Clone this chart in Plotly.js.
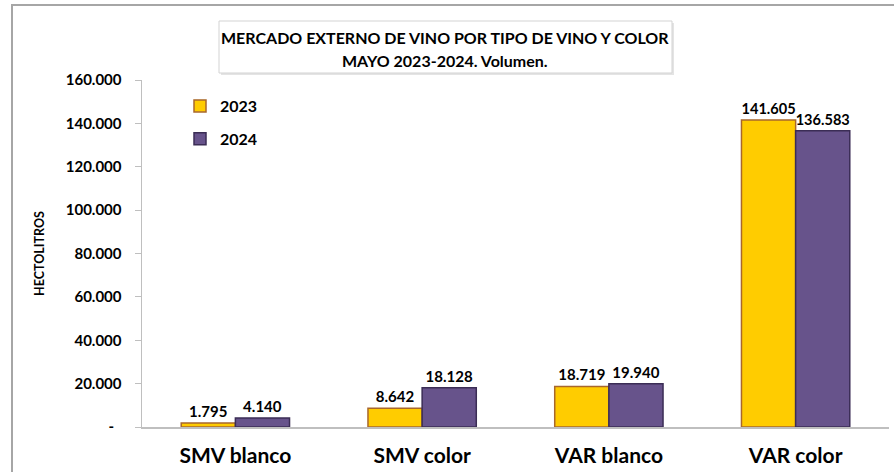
<!DOCTYPE html>
<html>
<head>
<meta charset="utf-8">
<script src="https://cdn.plot.ly/plotly-3.0.1.min.js"></script>
<style>html,body{margin:0;padding:0;background:#fff;}#chart{width:894px;height:472px;}</style>
</head>
<body>
<div id="chart"></div>
<script>
const categories = ['SMV blanco', 'SMV color', 'VAR blanco', 'VAR color'];
const values2023 = [1795, 8642, 18719, 141605];
const values2024 = [4140, 18128, 19940, 136583];
const seriesNames = ['2023', '2024'];
const tickValues = [0, 20000, 40000, 60000, 80000, 100000, 120000, 140000, 160000];
const tickLabels = ['-\u00A0\u00A0', '20.000', '40.000', '60.000', '80.000', '100.000', '120.000', '140.000', '160.000'];
const titleLines = ['MERCADO EXTERNO DE VINO POR TIPO DE VINO Y COLOR', 'MAYO 2023-2024. Volumen.'];
const yTitle = 'HECTOLITROS';

const FONT = 'Lato, "Open Sans", sans-serif';
const fmt = v => v.toLocaleString('de-DE');

const traces = [
  {
    type: 'bar', name: seriesNames[0], x: categories, y: values2023,
    legendgroup: 'a',
    marker: {color: '#FFCC00', line: {color: '#A8672C', width: 1.5}},
    text: values2023.map(fmt), textposition: 'outside', cliponaxis: false,
    textfont: {family: FONT, size: 15, color: '#000', weight: 'bold'}
  },
  {
    type: 'bar', name: seriesNames[1], x: categories, y: values2024,
    legendgroup: 'b',
    marker: {color: '#67538B', line: {color: '#3B2D55', width: 1.5}},
    text: values2024.map(fmt), textposition: 'outside', cliponaxis: false,
    textfont: {family: FONT, size: 15, color: '#000', weight: 'bold'}
  }
];

const L = 142, R = 5, T = 80, B = 45;
const W = 894 - L - R, H = 472 - T - B;
const px = x => (x - L) / W;
const py = y => 1 - (y - T) / H;

const layout = {
  width: 894, height: 472,
  margin: {l: L, r: R, t: T, b: B},
  paper_bgcolor: '#fff', plot_bgcolor: '#fff',
  separators: ',.',
  barmode: 'group', bargap: 0.42, bargroupgap: 0,
  font: {family: FONT, color: '#000'},
  showlegend: true,
  legend: {
    x: px(180), y: py(89), xanchor: 'left', yanchor: 'top',
    bgcolor: 'rgba(0,0,0,0)', tracegroupgap: 9,
    font: {family: FONT, size: 16, color: '#000', weight: 'bold'},
    itemwidth: 30
  },
  xaxis: {
    showgrid: false, showline: true, linecolor: '#BFBFBF', linewidth: 1.5,
    ticks: '', tickfont: {family: FONT, size: 21, color: '#000', weight: 'bold'},
    ticklabelstandoff: 9
  },
  yaxis: {
    range: [0, 160000], tickvals: tickValues, ticktext: tickLabels,
    showgrid: false, zeroline: false, showline: true, linecolor: '#BFBFBF', linewidth: 1.5,
    ticks: 'outside', ticklen: 6, tickcolor: '#BFBFBF',
    tickfont: {family: FONT, size: 15, color: '#000', weight: 'bold'},
    ticklabelstandoff: 10,
    title: {text: yTitle, font: {family: FONT, size: 12.5, color: '#000', weight: 'bold'}, standoff: 18}
  },
  annotations: [
    {
      xref: 'paper', yref: 'paper', x: px(445), y: py(37),
      xanchor: 'center', yanchor: 'middle', showarrow: false,
      text: titleLines[0],
      font: {family: FONT, size: 16, color: '#000', weight: 'bold'}
    },
    {
      xref: 'paper', yref: 'paper', x: px(445), y: py(61),
      xanchor: 'center', yanchor: 'middle', showarrow: false,
      text: titleLines[1],
      font: {family: FONT, size: 16, color: '#000', weight: 'bold'}
    }
  ],
  shapes: [
    {type: 'rect', xref: 'paper', yref: 'paper', layer: 'below',
     x0: px(221), x1: px(674), y0: py(23), y1: py(75),
     fillcolor: '#E4E4E4', line: {width: 0}},
    {type: 'rect', xref: 'paper', yref: 'paper', layer: 'below',
     x0: px(219), x1: px(672), y0: py(21), y1: py(73),
     fillcolor: '#fff', line: {color: '#D3D3D3', width: 1}},
    {type: 'path', xref: 'paper', yref: 'paper',
     path: `M ${px(12)} ${py(480)} L ${px(12)} ${py(5)} L ${px(900)} ${py(5)}`,
     line: {color: '#A6A6A6', width: 2}}
  ]
};

Plotly.newPlot('chart', traces, layout, {displayModeBar: false, staticPlot: true});
</script>
</body>
</html>
